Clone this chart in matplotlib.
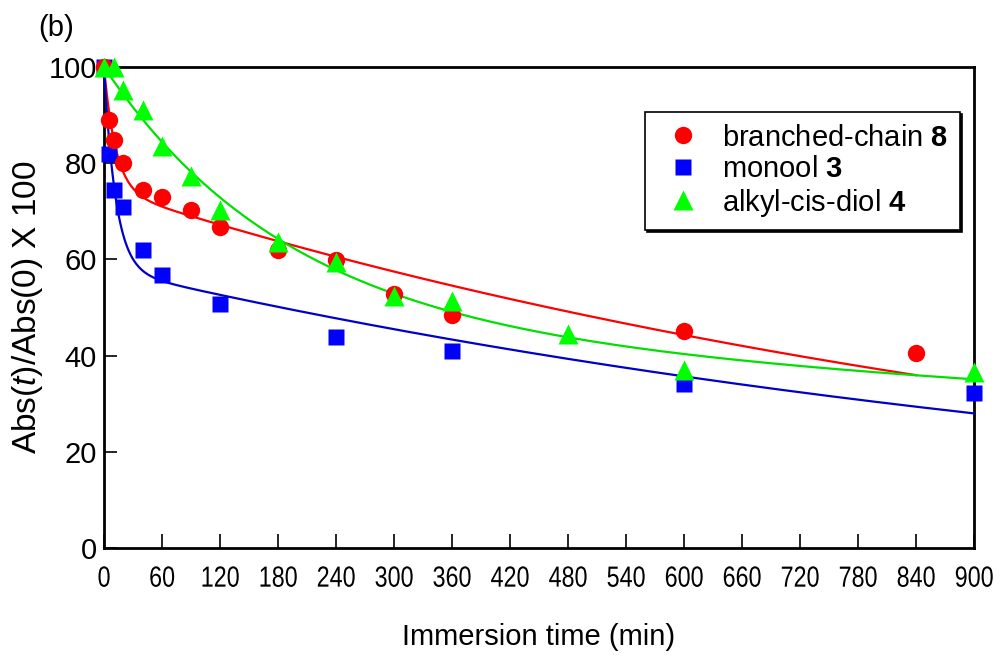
import numpy as np
import matplotlib
matplotlib.use("Agg")
import matplotlib.pyplot as plt
from matplotlib.patheffects import AbstractPathEffect
from matplotlib.transforms import Affine2D

plt.rcParams['font.family'] = ['Liberation Sans', 'DejaVu Sans']
plt.rcParams['mathtext.fontset'] = 'custom'
plt.rcParams['mathtext.rm'] = 'Liberation Sans'
plt.rcParams['mathtext.it'] = 'Liberation Sans:italic'
plt.rcParams['mathtext.bf'] = 'Liberation Sans:bold'

# Measured absorbance ratios (%) vs immersion time (min)
t_branched = [0, 5, 10, 20, 40, 60, 90, 120, 180, 240, 300, 360, 600, 840]
y_branched = [100, 89.0, 84.8, 80.0, 74.4, 72.9, 70.3, 66.7, 62.0, 59.9, 52.9, 48.4, 45.2, 40.6]

t_monool = [0, 5, 10, 20, 40, 60, 120, 240, 360, 600, 900]
y_monool = [100, 82.0, 74.4, 71.0, 62.0, 56.8, 50.8, 43.9, 41.0, 34.1, 32.2]

t_diol = [0, 10, 20, 40, 60, 90, 120, 180, 240, 300, 360, 480, 600, 900]
y_diol = [100, 100, 95.2, 91.0, 83.6, 77.4, 70.3, 63.6, 59.4, 52.4, 51.4, 44.5, 37.0, 36.6]

# Bi-exponential fit parameters: (A1, tau1, A2, tau2, t_end)
fit_branched = (25.4, 12.0, 74.6, 1150.0, 840)
fit_monool = (42.0, 12.0, 58.0, 1235.0, 900)
fit_diol = (53.8, 188.0, 46.2, 3120.0, 900)

x_ticks = list(range(0, 901, 60))
y_ticks = [0, 20, 40, 60, 80, 100]


def biexp(params):
    a1, tau1, a2, tau2, t_end = params
    t = np.linspace(0, t_end, 600)
    return t, a1 * np.exp(-t / tau1) + a2 * np.exp(-t / tau2)


class Squeeze(AbstractPathEffect):
    """Compress glyphs horizontally about their centre (narrow lettering)."""

    def __init__(self, sx):
        super().__init__()
        self.sx = sx

    def draw_path(self, renderer, gc, tpath, affine, rgbFace=None):
        ext = tpath.get_extents()
        cx = 0.5 * (ext.x0 + ext.x1)
        tr = Affine2D().translate(-cx, 0).scale(self.sx, 1).translate(cx, 0) + affine
        renderer.draw_path(gc, tpath, tr, rgbFace)


fig = plt.figure(figsize=(10.03, 6.57), dpi=100)
ax = fig.add_axes([0.1037, 0.1659, 0.8674, 0.7321])

c_red, c_blue, c_green = '#FF0000', '#0000FF', '#00FF00'

for params, col in [(fit_branched, '#FF0000'), (fit_monool, '#0000C8'), (fit_diol, '#00E000')]:
    tt, yy = biexp(params)
    ax.plot(tt, yy, color=col, lw=1.6, zorder=3, clip_on=False)

ax.plot(t_branched, y_branched, 'o', color=c_red, ms=12.5, mec='none',
        label='branched-chain $\\mathbf{8}$', zorder=5, clip_on=False)
ax.plot(t_monool, y_monool, 's', color=c_blue, ms=11.5, mec='none',
        label='monool $\\mathbf{3}$', zorder=4, clip_on=False)
ax.plot(t_diol, y_diol, '^', color=c_green, ms=14, mec='none',
        label='alkyl-cis-diol $\\mathbf{4}$', zorder=6, clip_on=False)

ax.set_xlim(0, 900)
ax.set_ylim(0, 100)
ax.set_xticks(x_ticks)
ax.set_yticks(y_ticks)
ax.set_xticklabels([str(v) for v in x_ticks], fontsize=21)
ax.set_yticklabels([str(v) for v in y_ticks], fontsize=21)
for lab in ax.get_xticklabels():
    lab.set_path_effects([Squeeze(0.8)])
ax.tick_params(axis='x', direction='in', length=10, width=1.2, pad=12)
ax.tick_params(axis='y', direction='in', length=9, width=1.2, pad=5)
for s in ax.spines.values():
    s.set_linewidth(2)
    s.set_zorder(2.5)

ax.set_xlabel('Immersion time (min)', fontsize=21)
ax.xaxis.set_label_coords(0.5, -0.185)
ax.xaxis.label.set_va('center')
ax.set_ylabel('Abs($\\mathit{t}$)/Abs(0) X 100', fontsize=24)
ax.yaxis.set_label_coords(-0.0885, 0.5)
ax.yaxis.label.set_va('center')

leg = ax.legend(loc='upper left', bbox_to_anchor=(0.6218, 0.9064), fontsize=21,
                frameon=True, fancybox=False,
                shadow={'ox': 1.5, 'oy': -1.5, 'facecolor': 'black',
                        'edgecolor': 'black', 'alpha': 1},
                handletextpad=0.43, borderpad=0.4, labelspacing=0.12,
                handlelength=1.82, borderaxespad=0)
leg.get_frame().set_edgecolor('black')
leg.get_frame().set_linewidth(1.2)
leg.set_zorder(10)

fig.text(0.038, 0.957, '(b)', fontsize=21, ha='left', va='center')

fig.savefig('out.png', dpi=100)
